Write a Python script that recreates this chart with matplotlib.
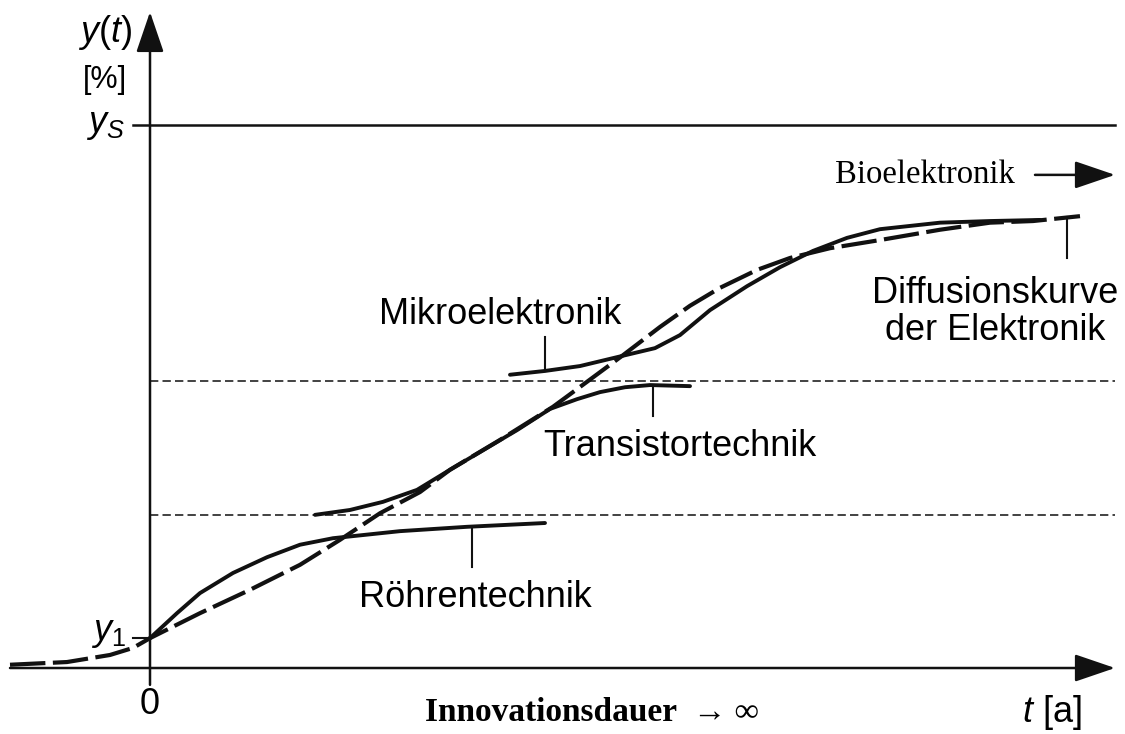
import numpy as np
import matplotlib.pyplot as plt

plt.rcParams['font.family'] = ['Liberation Sans', 'DejaVu Sans']
plt.rcParams['mathtext.fontset'] = 'custom'
plt.rcParams['mathtext.rm'] = 'Liberation Sans'
plt.rcParams['mathtext.it'] = 'Liberation Sans:italic'

# -------------------------
# DATA (t in arbitrary units, y in % of saturation y_S)
# -------------------------
diff_t = [-1.40, -0.83, -0.40, -0.17, 0.00, 0.50, 1.00, 1.50, 1.90, 2.30, 2.70, 3.00,
          3.50, 4.03, 4.37, 4.73, 5.10, 5.40, 5.70, 6.07, 6.40, 6.80, 7.30, 7.90,
          8.40, 8.83, 9.30]
diff_y = [0.6, 1.1, 2.4, 3.7, 5.5, 10.1, 14.4, 19.0, 23.6, 28.5, 32.4, 36.5,
          42.0, 48.1, 52.7, 57.6, 62.8, 66.7, 70.0, 73.3, 75.5, 77.3, 78.8, 80.7,
          82.0, 82.3, 83.2]

roehre_t = [0.00, 0.27, 0.50, 0.83, 1.17, 1.50, 1.83, 2.50, 3.17, 3.95]
roehre_y = [5.5, 10.1, 13.8, 17.5, 20.4, 22.7, 23.9, 25.2, 26.0, 26.7]

trans_t = [1.65, 2.00, 2.33, 2.67, 3.00, 3.33, 3.67, 4.00, 4.27, 4.50, 4.75, 5.00, 5.40]
trans_y = [28.2, 29.1, 30.6, 32.8, 36.5, 40.1, 43.8, 47.7, 49.5, 50.8, 51.7, 52.1, 51.9]

mikro_t = [3.60, 3.95, 4.30, 4.73, 5.05, 5.30, 5.60, 5.97, 6.30, 6.63, 6.97, 7.30,
           7.90, 8.40, 8.90]
mikro_y = [54.0, 54.7, 55.6, 57.5, 58.9, 61.3, 65.9, 70.3, 73.8, 76.8, 79.2, 80.8,
           82.0, 82.3, 82.5]

y_s = 100.0
y_1 = 5.5
stufen = [28.2, 52.9]          # dashed level lines

# -------------------------
# FIGURE
# -------------------------
fig = plt.figure(figsize=(11.25, 7.34), dpi=100)
ax = fig.add_axes([0, 0, 1, 1])
ax.set_xlim(-1.5, 9.75)
ax.set_ylim(-12.15, 123.0)
ax.axis('off')

ink = '#111111'

# axes with arrow heads
arrow = dict(arrowstyle='-|>,head_length=1.26,head_width=0.43', color=ink,
             lw=1.8, shrinkA=0, shrinkB=0, mutation_scale=20)
ax.annotate('', xy=(9.65, 0), xytext=(-1.4, 0), arrowprops=arrow)
ax.annotate('', xy=(0, 120.8), xytext=(0, -3.1), arrowprops=arrow)

# saturation line and level lines
ax.plot([-0.17, 9.65], [y_s, y_s], color=ink, lw=1.8)
ax.plot([-0.17, 0], [y_1, y_1], color=ink, lw=1.5)
for s in stufen:
    ax.plot([0, 9.65], [s, s], color='#222222', lw=1.2, linestyle=(0, (5, 2.5)))

# curves
ax.plot(diff_t, diff_y, color=ink, lw=3, linestyle=(0, (8.5, 1.8)),
        dash_capstyle='butt', dash_joinstyle='round')
for tt, yy in [(roehre_t, roehre_y), (trans_t, trans_y), (mikro_t, mikro_y)]:
    ax.plot(tt, yy, color=ink, lw=2.8, solid_capstyle='round', solid_joinstyle='round')

# leader lines
ax.plot([3.22, 3.22], [26.0, 18.6], color=ink, lw=1.5)
ax.plot([5.03, 5.03], [52.0, 46.4], color=ink, lw=1.5)
ax.plot([3.95, 3.95], [54.7, 61.0], color=ink, lw=1.5)
ax.plot([9.17, 9.17], [83.0, 75.5], color=ink, lw=1.5)

# labels
fs = 26
ax.text(3.50, 65.0, 'Mikroelektronik', fontsize=fs, ha='center', va='center')
ax.text(5.30, 40.7, 'Transistortechnik', fontsize=fs, ha='center', va='center')
ax.text(3.25, 12.9, 'Röhrentechnik', fontsize=fs, ha='center', va='center')
ax.text(8.45, 65.6, 'Diffusionskurve\nder Elektronik', fontsize=fs, ha='center',
        va='center', linespacing=1.08)

ax.text(7.75, 90.8, 'Bioelektronik', fontsize=23.5, ha='center', va='center',
        family=['Liberation Serif', 'DejaVu Serif'])
ax.annotate('', xy=(9.65, 90.8), xytext=(8.85, 90.8), arrowprops=arrow)

ax.text(-0.45, 117.0, r'$y(t)$', fontsize=fs, ha='center', va='center')
ax.text(-0.45, 108.3, '[%]', fontsize=22, ha='center', va='center')
ax.text(-0.45, 100.0, r'$y_S$', fontsize=fs, ha='center', va='center')
ax.text(-0.42, 6.5, r'$y_1$', fontsize=fs, ha='center', va='center')
ax.text(0.0, -6.8, '0', fontsize=fs, ha='center', va='center')
ax.text(9.02, -8.1, r'$t$ [a]', fontsize=fs, ha='center', va='center')
ax.text(4.42, -8.1, 'Innovationsdauer  → ∞', fontsize=24, ha='center', va='center',
        family=['Liberation Serif', 'DejaVu Serif'], fontweight='bold')

fig.savefig('out.png', dpi=100, facecolor='white')
